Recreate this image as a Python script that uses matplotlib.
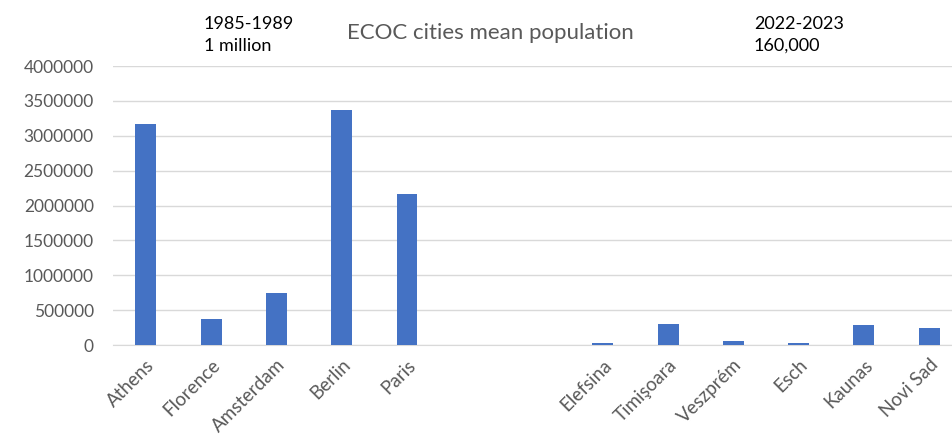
import numpy as np
import matplotlib.pyplot as plt

plt.rcParams['font.family'] = ['Lato', 'DejaVu Sans']

# categories (two empty slots separate the two periods)
cities = ['Athens', 'Florence', 'Amsterdam', 'Berlin', 'Paris', '', '',
          'Elefsina', 'Timişoara', 'Veszprém', 'Esch', 'Kaunas', 'Novi Sad']
population = [3170000, 370000, 740000, 3370000, 2160000, np.nan, np.nan,
              25000, 300000, 60000, 35000, 290000, 250000]
yticks = [0, 500000, 1000000, 1500000, 2000000, 2500000, 3000000, 3500000, 4000000]

fig = plt.figure(figsize=(9.52, 4.43), dpi=100)
ax = fig.add_axes([0.119, 0.221, 0.881, 0.630])

x = np.arange(len(cities))
ax.bar(x, population, width=0.32, color='#4472C4', zorder=3)

ax.set_xlim(-0.5, 12.35)
ax.set_ylim(0, 4000000)
ax.set_yticks(yticks)
ax.set_yticklabels([str(v) for v in yticks])
ax.set_xticks(x)
ax.set_xticklabels(cities, rotation=45, ha='right', rotation_mode='anchor')

ax.grid(axis='y', color='#d9d9d9', linewidth=1, zorder=0)
for s in ['top', 'right', 'left']:
    ax.spines[s].set_visible(False)
ax.spines['bottom'].set_color('#d9d9d9')
ax.tick_params(axis='both', length=0, labelcolor='#595959')
ax.tick_params(axis='y', pad=14, labelsize=12.5)
ax.tick_params(axis='x', pad=8, labelsize=13.5)

fig.text(0.515, 0.925, 'ECOC cities mean population', ha='center', va='center',
         fontsize=16, color='#595959')
fig.text(0.214, 0.921, '1985-1989\n1 million', ha='left', va='center',
         fontsize=13, color='black', linespacing=1.4)
fig.text(0.792, 0.921, '2022-2023\n160,000', ha='left', va='center',
         fontsize=13, color='black', linespacing=1.4)

plt.savefig('out.png', dpi=100)
